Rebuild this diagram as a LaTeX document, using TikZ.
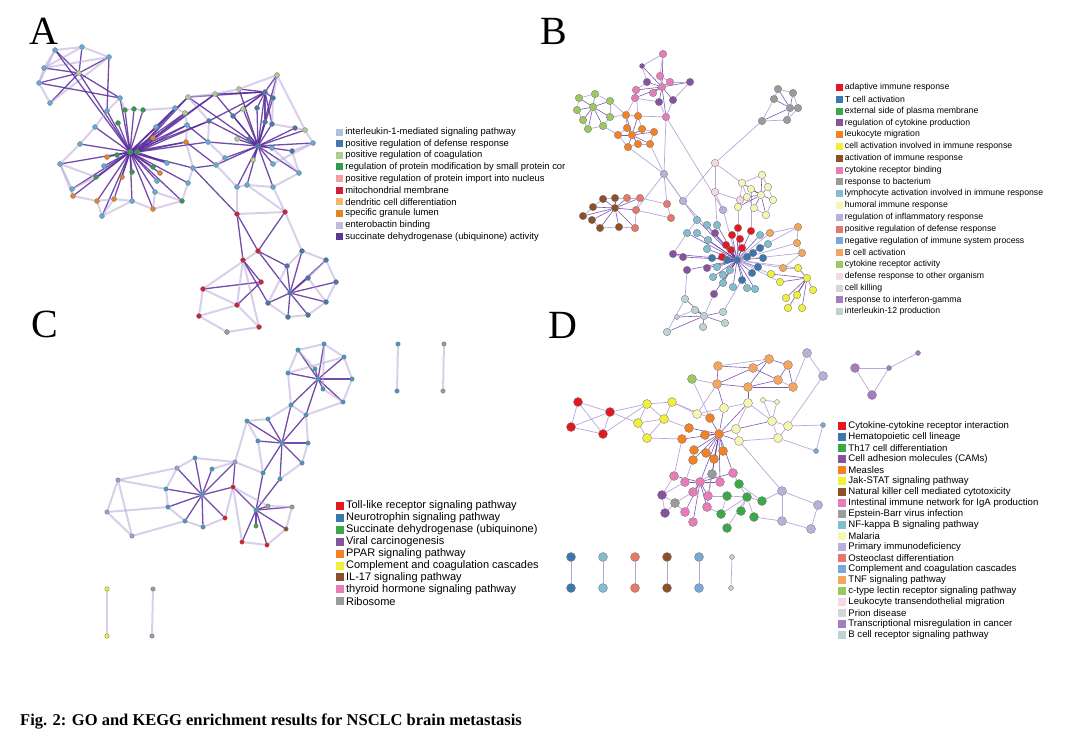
\documentclass[tikz,border=0pt]{standalone}
\usepackage{fontspec}
\setmainfont{Liberation Serif}
\newfontfamily\legfont{Liberation Sans}
\usetikzlibrary{positioning}
\pgfdeclarelayer{edges}
\pgfsetlayers{edges,main}

\definecolor{netdark}{HTML}{5A2D9C}
\definecolor{netlight}{HTML}{B8A7DA}
\definecolor{aLB}{HTML}{A9C5E0}
\definecolor{aBL}{HTML}{4A77AA}
\definecolor{aLG}{HTML}{ADCF8E}
\definecolor{aGR}{HTML}{2E9C4B}
\definecolor{aPK}{HTML}{F2A0A0}
\definecolor{aRD}{HTML}{D0203A}
\definecolor{aLO}{HTML}{F3B86C}
\definecolor{aOR}{HTML}{E88324}
\definecolor{aLV}{HTML}{C6BADC}
\definecolor{aPU}{HTML}{5B3696}
\definecolor{aCyan}{HTML}{5CAFDA}
\definecolor{cTeal}{HTML}{3E9CC3}
\definecolor{cLav}{HTML}{9C9FD8}
\definecolor{mred}{HTML}{E3191F}
\definecolor{mblue}{HTML}{3C78AE}
\definecolor{mgreen}{HTML}{3DA84A}
\definecolor{mpurple}{HTML}{85549F}
\definecolor{morange}{HTML}{F28222}
\definecolor{myellow}{HTML}{EFEF3C}
\definecolor{mbrown}{HTML}{8D5128}
\definecolor{mpink}{HTML}{E77DB8}
\definecolor{mgray}{HTML}{9B9B9B}
\definecolor{mteal}{HTML}{82BECF}
\definecolor{mpaley}{HTML}{F5F5B6}
\definecolor{mlav}{HTML}{BBB0D9}
\definecolor{msalmon}{HTML}{E6786B}
\definecolor{mlblue}{HTML}{79A9D6}
\definecolor{mlorange}{HTML}{F5A65E}
\definecolor{mlgreen}{HTML}{9BC95F}
\definecolor{mpalepink}{HTML}{F5D9E4}
\definecolor{mlgray}{HTML}{D5D5D5}
\definecolor{mmpurple}{HTML}{A47CC2}
\definecolor{mgreyblue}{HTML}{BDD2D2}

\begin{document}
\begin{tikzpicture}[
            x=1pt, y=-1pt,
            adot/.style={circle, draw=black!55, line width=0.3pt, inner sep=0pt, minimum size=5pt},
            bdot/.style={adot, minimum size=7.5pt},
            cdot/.style={adot, minimum size=4.5pt},
            ddot/.style={adot, minimum size=9pt},
            strong/.style={draw=netdark, line width=1.3pt, opacity=0.85},
            weak/.style={draw=netlight, line width=2pt, opacity=0.55},
            fine/.style={draw=netdark, line width=0.6pt, opacity=0.8},
            faint/.style={draw=netlight, line width=0.7pt},
            legsq/.style={rectangle, inner sep=0pt, minimum size=7pt},
            legA/.style={font=\legfont\fontsize{9.4}{10}\selectfont, inner sep=0pt},
            legB/.style={font=\legfont\fontsize{8.7}{10}\selectfont, inner sep=0pt},
            legC/.style={font=\legfont\fontsize{11}{12}\selectfont, inner sep=0pt},
            legD/.style={font=\legfont\fontsize{9.6}{10}\selectfont, inner sep=0pt},
            panel/.style={font=\fontsize{40}{40}\selectfont, inner sep=0pt, anchor=base west}
        ]
        \useasboundingbox (0,0) rectangle (1070,736);

        % Panel letters
        \node[panel] (labA) at (29,44) {A};
        \node[panel] (labB) at (540,44) {B};
        \node[panel] (labC) at (31,337) {C};
        \node[panel] (labD) at (548,338) {D};

        % Panel A - nodes
        \foreach \n/\x/\y/\c in {1/55/50/aCyan, 2/82/47/aCyan, 3/109/57/aCyan, 4/44/68/aCyan, 5/39/83/aCyan, 6/50/103/aCyan, 7/79/73/aLG,
            8/120/98/aCyan, 9/107/111/aCyan, 10/125/110/aGR, 11/134/109/aGR, 12/143/110/aGR, 13/118/123/aGR, 14/95/127/aCyan,
            15/80/144/aCyan, 16/60/164/aCyan, 17/72/189/aCyan, 18/73/196/aOR, 19/97/201/aOR, 20/102/216/aCyan, 21/114/199/aOR,
            22/132/201/aCyan, 23/153/209/aOR, 24/155/192/aCyan, 25/182/201/aGR, 26/188/183/aCyan, 27/193/168/aCyan, 28/156/127/aCyan,
            29/153/138/aOR, 30/130/152/aGR, 31/137/152/aGR, 32/117/155/aGR, 33/107/157/aOR, 34/96/177/aGR, 35/122/177/aOR,
            36/153/167/aGR, 37/160/173/aOR, 38/157/181/aCyan, 39/132/172/aGR, 40/104/166/aCyan, 41/175/108/aCyan, 42/185/113/aLG,
            43/187/125/aCyan, 44/186/142/aOR, 45/167/163/aCyan,
            46/188/97/aLG, 47/215/94/aLG, 48/239/89/aLG, 49/277/75/aLG, 50/265/92/aBL, 51/273/98/aBL, 52/243/109/aLG, 53/257/108/aBL,
            54/233/116/aBL, 55/209/121/aBL, 56/265/122/aBL, 57/272/124/aBL, 58/295/128/aBL, 59/305/130/aLG, 60/313/143/aCyan,
            61/292/151/aBL, 62/272/148/aCyan, 63/258/146/aBL, 64/249/139/aBL, 65/237/139/aLG, 66/208/142/aCyan, 67/225/158/aCyan,
            68/216/165/aCyan, 69/253/160/aLG, 70/273/164/aCyan, 71/299/173/aCyan, 72/273/187/aCyan, 73/247/185/aCyan, 74/237/187/aCyan,
            75/237/214/aRD, 76/285/212/aRD, 77/258/251/aRD, 78/243/260/aRD, 79/261/282/aRD, 80/302/251/aBL, 81/326/260/aBL,
            82/336/282/aBL, 83/326/302/aBL, 84/308/315/aBL, 85/288/317/aBL, 86/268/303/aBL, 87/287/266/aBL, 88/290/293/aBL,
            89/308/278/aBL, 90/203/289/aRD, 91/199/316/aRD, 92/237/305/aRD, 93/259/327/aRD, 94/227/332/mgray}
            \node[adot, fill=\c] (a\n) at (\x,\y) {};

        % Panel B - nodes
        \foreach \n/\x/\y/\c in {1/663/54/mpink, 3/647/82/mpurple, 4/660/76/mpink, 5/670/82/mpink, 6/690/82/mpurple, 7/636/90/mpink,
            8/653/93/mpink, 9/662/87/mpink, 10/635/98/mpink, 11/659/102/mpurple, 12/673/100/mpurple, 13/666/117/mpink,
            14/579/98/mlgreen, 15/595/94/mlgreen, 16/610/101/mlgreen, 17/577/110/mlgreen, 18/593/107/mlgreen, 19/583/120/mlgreen,
            20/588/129/mlgreen, 21/603/126/mlgreen, 22/610/117/mlgreen,
            23/626/115/morange, 24/638/116/morange, 25/627/128/morange, 26/642/129/morange, 27/618/135/morange, 28/632/135/morange,
            29/654/132/morange, 30/628/147/morange, 31/638/144/morange, 32/650/144/morange,
            33/778/89/mgray, 34/793/93/mgray, 35/774/99/mgray, 36/790/108/mgray, 37/798/108/mgray, 38/762/121/mgray, 39/787/120/mgray,
            40/664/174/mlav, 41/715/163/mpalepink, 42/683/201/mlav, 43/715/192/mpalepink, 44/723/210/mlav, 45/740/200/mpalepink,
            46/640/198/msalmon, 47/627/198/msalmon, 48/615/198/mbrown, 49/603/199/mbrown, 50/593/207/mbrown, 51/583/216/mbrown,
            52/592/220/mbrown, 53/615/208/mbrown, 54/619/227/mbrown, 55/600/228/mbrown, 56/636/210/msalmon, 57/635/228/msalmon,
            58/667/204/msalmon, 59/671/218/msalmon,
            60/762/175/mpaley, 61/742/183/mpaley, 62/751/189/mpaley, 63/768/187/mpaley, 64/761/195/mpaley, 65/747/197/mpaley,
            66/773/200/mpaley, 67/754/208/mpaley, 68/766/215/mpaley, 69/738/207/mpaley,
            70/738/228/mred, 71/751/231/mred, 72/732/235/mred, 73/740/239/mred, 74/726/245/mred, 75/731/250/mred, 76/742/248/mred,
            77/722/257/mred,
            78/712/258/mblue, 79/727/260/mblue, 80/737/260/mblue, 81/747/257/mblue, 82/753/253/mblue, 83/760/248/mblue,
            84/763/258/mblue, 85/758/267/mblue, 86/752/273/mblue, 87/742/280/mblue,
            88/697/220/mteal, 89/707/225/mteal, 90/717/225/mteal, 91/687/233/mteal, 92/697/233/mteal, 93/708/240/mteal,
            94/760/235/mteal, 95/768/244/mteal, 96/713/277/mteal, 97/723/275/mteal, 98/717/267/mteal, 99/730/270/mteal,
            100/733/287/mteal, 101/747/288/mteal, 102/755/289/mteal, 103/723/283/mteal, 104/707/249/mteal,
            105/715/233/mpurple, 106/673/254/mpurple, 107/683/257/mpurple, 108/687/270/mpurple, 109/707/268/mpurple, 110/714/294/mpurple,
            111/770/233/mlorange, 112/798/227/mlorange, 113/797/243/mlorange, 114/802/253/mlorange, 115/783/268/mlorange,
            116/771/274/myellow, 117/780/282/myellow, 118/798/268/myellow, 119/807/278/myellow, 120/813/290/myellow,
            121/797/295/myellow, 122/786/298/myellow, 123/802/308/myellow, 124/788/308/myellow,
            125/685/299/mgreyblue, 127/695/310/mgreyblue, 128/704/316/mgreyblue, 129/723/312/mgreyblue, 130/725/323/mgreyblue,
            131/703/327/mgreyblue, 132/667/332/mgreyblue}
            \node[bdot, fill=\c] (b\n) at (\x,\y) {};
        \node[bdot, minimum size=5pt, fill=mpurple] (b2) at (642,66) {};
        \node[bdot, minimum size=5pt, fill=mgreyblue] (b126) at (677,317) {};

        % Panel C - nodes
        \foreach \n/\x/\y/\c in {1/298/350/cTeal, 2/324/344/cTeal, 3/344/357/cTeal, 4/352/379/cTeal, 5/343/402/cTeal, 6/323/389/cTeal,
            7/315/369/cTeal, 8/288/373/cTeal, 9/318/379/cTeal,
            10/291/405/cTeal, 11/306/415/cTeal, 12/247/421/cTeal, 13/268/419/cTeal, 14/258/441/cTeal, 15/282/443/cTeal,
            16/308/443/cTeal, 17/302/463/cTeal, 18/263/473/cTeal, 19/280/479/cTeal,
            20/195/458/cTeal, 21/177/468/cLav, 22/212/469/cTeal, 23/166/489/cTeal, 24/168/507/cTeal, 25/185/521/cTeal,
            26/203/527/cTeal, 27/225/518/mred, 28/235/462/cLav, 29/202/495/cTeal, 30/118/480/cLav, 31/107/512/cLav, 32/132/536/cLav,
            33/233/487/mred, 34/268/506/mgray, 35/292/507/mgray, 36/286/529/mbrown, 37/267/545/mred, 38/242/542/mred,
            39/256/526/mgreen, 40/256/510/cTeal,
            41/398/344/cTeal, 42/397/391/cTeal, 43/444/344/mgray, 44/443/391/mgray, 45/107/589/myellow, 46/107/636/myellow,
            47/153/589/mgray, 48/152/636/mgray}
            \node[cdot, fill=\c] (c\n) at (\x,\y) {};

        % Panel D - nodes
        \foreach \n/\x/\y/\c in {1/578/402/mred, 2/610/412/mred, 3/571/427/mred, 4/603/434/mred,
            5/647/404/myellow, 6/672/402/myellow, 7/638/423/myellow, 8/664/419/myellow, 9/647/438/myellow,
            10/692/379/mlgreen,
            11/718/366/mlorange, 12/769/359/mlorange, 13/753/368/mlorange, 14/788/365/mlorange, 15/717/384/mlorange,
            16/748/387/mlorange, 17/778/380/mlorange, 18/793/387/mlorange,
            19/697/414/mpaley, 20/724/408/mpaley, 21/748/403/mpaley, 22/736/429/mpaley, 23/739/441/mpaley, 24/772/421/mpaley,
            25/788/426/mpaley, 26/778/438/mpaley,
            29/807/353/mlav, 30/823/376/mlav,
            33/710/418/morange, 34/689/428/morange, 35/705/435/morange, 36/719/434/morange, 37/682/439/morange,
            38/694/450/morange, 39/706/453/morange, 40/723/451/morange, 41/714/459/morange, 42/693/460/morange,
            43/712/474/mgray, 44/675/503/mgray,
            45/674/476/mpink, 46/733/473/mpink, 47/685/482/mpink, 48/700/482/mpink, 49/720/482/mpink, 50/693/492/mpink,
            51/708/496/mpink, 52/685/512/mpink, 53/707/507/mpink, 54/693/522/mpink,
            55/662/495/mpurple, 56/665/513/mpurple,
            57/739/484/mgreen, 58/727/496/mgreen, 59/747/497/mgreen, 60/762/501/mgreen, 61/721/514/mgreen, 62/741/511/mgreen,
            63/754/517/mgreen, 64/727/528/mgreen,
            65/782/491/mlav, 66/818/505/mlav, 67/782/521/mlav, 68/811/529/mlav,
            69/855/368/mmpurple, 72/872/395/mmpurple,
            73/571/557/mblue, 74/571/588/mblue, 75/603/557/mteal, 76/603/588/mteal, 77/635/557/msalmon, 78/635/588/msalmon,
            79/667/557/mbrown, 80/667/588/mbrown, 81/699/557/mlblue, 82/699/588/mlblue}
            \node[ddot, fill=\c] (d\n) at (\x,\y) {};
        \foreach \n/\x/\y/\c in {27/763/400/mpaley, 28/777/402/mpaley, 31/823/425/mlblue, 32/816/451/mlblue,
            70/889/368/mmpurple, 71/918/353/mmpurple, 83/732/557/mgreyblue, 84/731/588/mgreyblue}
            \node[ddot, minimum size=5pt, fill=\c] (d\n) at (\x,\y) {};

        \begin{pgfonlayer}{edges}
        % Panel A - edges
        \foreach \j in {1,...,6} \draw[strong] (a7) -- (a\j);
        \foreach \i/\j in {1/2,2/3,3/6,1/4,4/5,5/6,2/4,1/5,3/4} \draw[weak] (a\i) -- (a\j);
        \foreach \i/\j in {7/8,7/30,5/8,3/9,1/30} \draw[strong] (a\i) -- (a\j);
        \foreach \j in {8,...,29,31,32,...,45} \draw[strong] (a30) -- (a\j);
        \foreach \j in {41,...,47,55,66} \draw[strong] (a31) -- (a\j);
        \foreach \i/\j in {15/16,16/17,17/18,18/19,19/20,20/21,21/22,22/23,23/24,24/25,25/26,26/27,27/44,44/43,43/42,42/41,
            41/12,12/11,11/10,10/8,8/9,9/14,14/15,16/34,17/34,20/22,23/25,16/18,19/21} \draw[weak] (a\i) -- (a\j);
        \foreach \j in {46,...,62,64,65,...,74} \draw[strong] (a63) -- (a\j);
        \foreach \j in {46,...,49,51,52,...,57} \draw[strong] (a50) -- (a\j);
        \foreach \i/\j in {46/47,47/48,48/49,49/51,51/57,57/58,58/59,59/60,60/61,61/71,71/72,72/73,73/74,74/68,68/67,67/66,
            66/55,55/46,60/70,62/71,49/59} \draw[weak] (a\i) -- (a\j);
        \foreach \i/\j in {30/46,30/55,43/66,44/68,27/68,29/47} \draw[strong] (a\i) -- (a\j);
        \foreach \i/\j in {27/75,75/78,75/77,76/77,77/87,78/79,78/86,79/90,79/92,77/88} \draw[strong] (a\i) -- (a\j);
        \foreach \j in {80,...,87,89} \draw[strong] (a88) -- (a\j);
        \foreach \i/\j in {74/75,72/76,73/76,75/76,76/80,80/81,81/82,82/83,83/84,84/85,85/86,86/87,87/80,89/81,89/83,
            90/91,91/92,92/93,90/92,91/94,93/94,77/90,78/92,78/93} \draw[weak] (a\i) -- (a\j);

        % Panel B - edges
        \foreach \j in {1,...,8,10,11,12,13} \draw[fine] (b9) -- (b\j);
        \foreach \i/\j in {1/4,2/3,3/7,7/10,10/11,11/13,12/13,6/12,5/6,4/5,1/2} \draw[faint] (b\i) -- (b\j);
        \foreach \j in {14,...,17,19,20,21,22} \draw[fine] (b18) -- (b\j);
        \foreach \i/\j in {14/15,15/16,16/22,22/21,21/20,20/19,19/17,17/14} \draw[faint] (b\i) -- (b\j);
        \foreach \j in {23,...,27,29,30,31,32} \draw[fine] (b28) -- (b\j);
        \foreach \i/\j in {23/24,24/26,26/29,29/32,32/31,31/30,30/27,27/25,25/23,22/23,16/23,21/27,13/24,10/23,24/7}
            \draw[faint] (b\i) -- (b\j);
        \foreach \j in {33,34,35,37,38,39} \draw[fine] (b36) -- (b\j);
        \foreach \i/\j in {33/34,34/37,37/39,39/38,38/35,35/33} \draw[faint] (b\i) -- (b\j);
        \foreach \i/\j in {38/41,41/42,13/40,30/40,32/40,40/58,40/42,40/56,13/44,41/43,41/61,43/44,43/45,45/61,45/69,
            44/80,42/80,40/88,42/88,43/90,88/91,91/106,106/107,69/70,62/71} \draw[faint] (b\i) -- (b\j);
        \foreach \j in {46,...,52,54,55,56,57} \draw[fine] (b53) -- (b\j);
        \foreach \i/\j in {58/46,58/59,59/56,46/56,56/57,57/54,54/55,55/52,51/52,50/51,49/50,48/49,47/48,46/47}
            \draw[faint] (b\i) -- (b\j);
        \foreach \j in {60,...,63,65,66,...,69} \draw[fine] (b64) -- (b\j);
        \foreach \i/\j in {60/61,61/65,65/67,67/68,68/66,66/63,63/60} \draw[faint] (b\i) -- (b\j);
        \foreach \j in {70,...,79,81,82,...,110} \draw[fine] (b80) -- (b\j);
        \foreach \j in {111,...,118} \draw[faint] (b80) -- (b\j);
        \foreach \j in {116,117,118,120,121,...,124} \draw[fine] (b119) -- (b\j);
        \foreach \i/\j in {111/112,112/113,113/114,114/115,115/118,111/94} \draw[faint] (b\i) -- (b\j);
        \foreach \j in {125,126,127,129,130,131,132} \draw[fine] (b128) -- (b\j);
        \foreach \i/\j in {125/108,129/87,110/128,125/132,126/127} \draw[faint] (b\i) -- (b\j);

        % Panel C - edges
        \foreach \j in {1,...,8} \draw[strong] (c9) -- (c\j);
        \foreach \i/\j in {1/2,2/3,3/4,4/5,5/6,8/1,8/10,5/11,1/7,2/6,3/8,10/11} \draw[weak] (c\i) -- (c\j);
        \foreach \i/\j in {9/10,9/11,33/29,19/40,18/40,28/33} \draw[strong] (c\i) -- (c\j);
        \foreach \j in {10,...,14,16,17,18,19} \draw[strong] (c15) -- (c\j);
        \foreach \i/\j in {12/13,13/10,11/16,16/17,17/19,12/14,18/28,14/18,12/28} \draw[weak] (c\i) -- (c\j);
        \foreach \j in {20,...,28} \draw[strong] (c29) -- (c\j);
        \foreach \i/\j in {30/31,31/32,30/32,30/23,31/24,30/21,32/25,20/21,21/23,23/24,24/25,25/26,26/27,22/28,20/28}
            \draw[weak] (c\i) -- (c\j);
        \foreach \j in {33,...,39} \draw[strong] (c40) -- (c\j);
        \foreach \i/\j in {34/35,35/36,36/37,37/38,38/33,33/34,27/33,41/42,43/44,45/46,47/48} \draw[weak] (c\i) -- (c\j);

        % Panel D - edges
        \foreach \i/\j in {1/2,1/3,2/3,2/4,3/4,1/4,2/7,4/5,2/5,5/6,5/7,5/8,6/8,7/8,7/9,8/9,6/19,9/37,8/34,6/33,
            10/15,10/33,17/18,11/12} \draw[faint] (d\i) -- (d\j);
        \foreach \i/\j in {11/13,11/15,12/13,12/14,13/17,14/17,14/18,15/16,16/17,16/18,12/16,13/15,20/15,21/16,22/24}
            \draw[fine] (d\i) -- (d\j);
        \foreach \i/\j in {19/20,20/21,21/22,22/23,21/24,24/25,24/26,25/26,23/26,27/28,27/24,28/24,29/30,30/25,31/25,
            31/32,32/26,29/18,19/15} \draw[faint] (d\i) -- (d\j);
        \foreach \j in {33,34,35,37,38,...,43,20,21,22,23,46,48,49,51} \draw[fine] (d36) -- (d\j);
        \foreach \j in {45,46,47,49,50,...,54} \draw[fine] (d48) -- (d\j);
        \foreach \i/\j in {43/48,43/53,55/56,55/44,56/44,44/50,44/52,45/55,47/55,42/47,37/45} \draw[faint] (d\i) -- (d\j);
        \foreach \j in {57,58,60,61,...,64} \draw[faint] (d59) -- (d\j);
        \foreach \i/\j in {57/46,58/51,61/53,57/60,58/61,65/66,65/67,66/68,67/68,65/60,63/67,23/65,
            69/70,69/72,70/72,70/71,73/74,75/76,77/78,79/80,81/82,83/84} \draw[faint] (d\i) -- (d\j);
        \end{pgfonlayer}

        % Legend A
        \foreach \c/\t [count=\i] in {aLB/interleukin-1-mediated signaling pathway, aBL/positive regulation of defense response,
            aLG/positive regulation of coagulation, aGR/regulation of protein modification by small protein cor,
            aPK/positive regulation of protein import into nucleus, aRD/mitochondrial membrane, aLO/dendritic cell differentiation,
            aOR/specific granule lumen, aLV/enterobactin binding, aPU/succinate dehydrogenase (ubiquinone) activity}
        {
            \node[legsq, fill=\c] (keyA\i) at (339.5,{132+11.65*(\i-1)}) {};
            \node[legA, right=2pt of keyA\i] {\t};
        }

        % Legend B
        \foreach \c/\t [count=\i] in {mred/adaptive immune response, mblue/T cell activation, mgreen/external side of plasma membrane,
            mpurple/regulation of cytokine production, morange/leukocyte migration, myellow/cell activation involved in immune response,
            mbrown/activation of immune response, mpink/cytokine receptor binding, mgray/response to bacterium,
            mteal/lymphocyte activation involved in immune response, mpaley/humoral immune response,
            mlav/regulation of inflammatory response, msalmon/positive regulation of defense response,
            mlblue/negative regulation of immune system process, mlorange/B cell activation, mlgreen/cytokine receptor activity,
            mpalepink/defense response to other organism, mlgray/cell killing, mmpurple/response to interferon-gamma,
            mgreyblue/interleukin-12 production}
        {
            \node[legsq, fill=\c] (keyB\i) at (839.5,{87.5+11.8*(\i-1)}) {};
            \node[legB, right=1.5pt of keyB\i] {\t};
        }

        % Legend C
        \foreach \c/\t [count=\i] in {mred/Toll-like receptor signaling pathway, mblue/Neurotrophin signaling pathway,
            mgreen/Succinate dehydrogenase (ubiquinone), mpurple/Viral carcinogenesis, morange/PPAR signaling pathway,
            myellow/Complement and coagulation cascades, mbrown/IL-17 signaling pathway, mpink/thyroid hormone signaling pathway,
            mgray/Ribosome}
        {
            \node[legsq, minimum size=8pt, fill=\c] (keyC\i) at (340,{506+11.9*(\i-1)}) {};
            \node[legC, right=1.7pt of keyC\i] {\t};
        }

        % Legend D
        \foreach \c/\t [count=\i] in {mred/Cytokine-cytokine receptor interaction, mblue/Hematopoietic cell lineage,
            mgreen/Th17 cell differentiation, mpurple/Cell adhesion molecules (CAMs), morange/Measles,
            myellow/Jak-STAT signaling pathway, mbrown/Natural killer cell mediated cytotoxicity,
            mpink/Intestinal immune network for IgA production, mgray/Epstein-Barr virus infection,
            mteal/NF-kappa B signaling pathway, mpaley/Malaria, mlav/Primary immunodeficiency, msalmon/Osteoclast differentiation,
            mlblue/Complement and coagulation cascades, mlorange/TNF signaling pathway,
            mlgreen/c-type lectin receptor signaling pathway, mpalepink/Leukocyte transendothelial migration, mlgray/Prion disease,
            mmpurple/Transcriptional misregulation in cancer, mgreyblue/B cell receptor signaling pathway}
        {
            \node[legsq, minimum size=8pt, fill=\c] (keyD\i) at (842,{426+11*(\i-1)}) {};
            \node[legD, right=2pt of keyD\i] {\t};
        }

        % Caption
        \node[anchor=base west, inner sep=0pt, font=\bfseries\fontsize{16.5}{18}\selectfont] (caption) at (20,725)
            {Fig. 2: GO and KEGG enrichment results for NSCLC brain metastasis};

    \end{tikzpicture}
\end{document}
